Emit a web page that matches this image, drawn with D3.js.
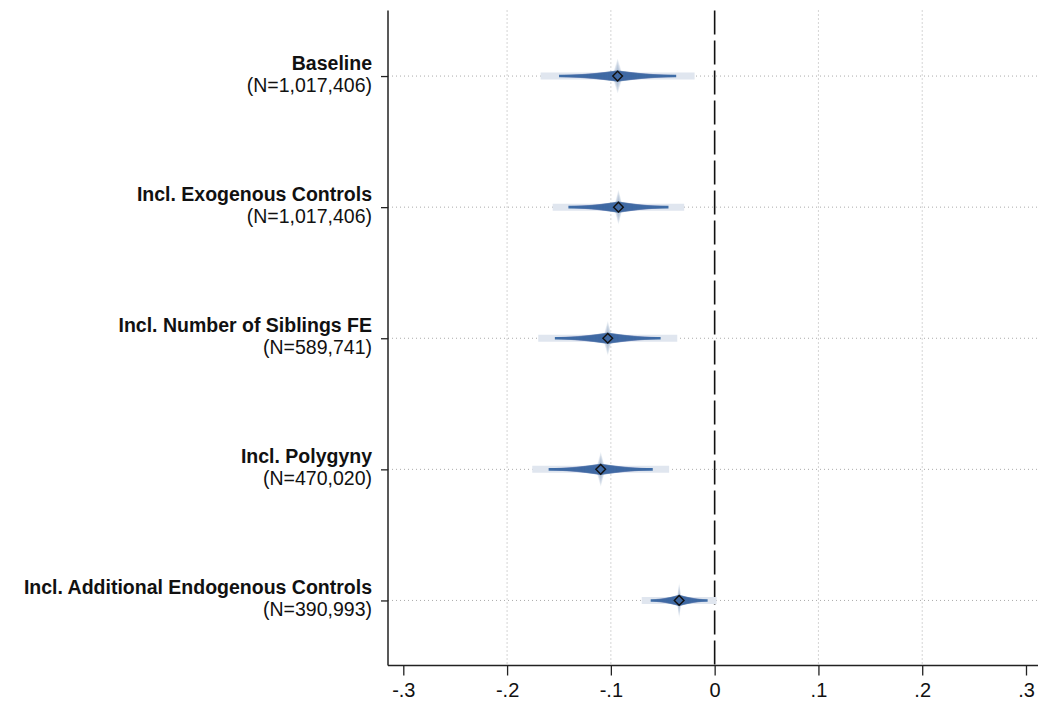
<!DOCTYPE html>
<html>
<head>
<meta charset="utf-8">
<script src="https://cdn.jsdelivr.net/npm/d3@7"></script>
<style>
  body { margin: 0; background: #fff; }
  text { font-family: "Liberation Sans", Arial, Helvetica, sans-serif; }
</style>
</head>
<body>
<div class="canvas"></div>
<script>
// data
var labels = ["Baseline", "Incl. Exogenous Controls", "Incl. Number of Siblings FE", "Incl. Polygyny", "Incl. Additional Endogenous Controls"];
var nObs = ["1,017,406", "1,017,406", "589,741", "470,020", "390,993"];
var coef = [-0.0935, -0.0927, -0.103, -0.1098, -0.0342];
var se = [0.0288, 0.0246, 0.026, 0.0256, 0.014];
var xTicks = [-0.3, -0.2, -0.1, 0, 0.1, 0.2, 0.3];
var xTickLabels = ["-.3", "-.2", "-.1", "0", ".1", ".2", ".3"];
var xGrid = [-0.2, -0.1, 0.1, 0.2];

var rows = labels.map(function(l, i) { return {label: l, n: nObs[i], b: coef[i], se: se[i]}; });

var W = 1038, H = 702;
var frame = {left: 388, right: 1038, top: 10.5, bottom: 665.5};

var svg = d3.select(".canvas").append("svg").attr("width", W).attr("height", H);

var x = d3.scaleLinear().domain([-0.3, 0.3]).range([403.3, 1026]);
var y = d3.scalePoint().domain(labels).range([10.5, 666]).padding(0.5);

// inverse normal (Acklam)
function probit(p) {
    var a = [-39.69683028665376, 220.9460984245205, -275.9285104469687, 138.357751867269, -30.66479806614716, 2.506628277459239];
    var b = [-54.47609879822406, 161.5858368580409, -155.6989798598866, 66.80131188771972, -13.28068155211218];
    var c = [-0.007784894002430293, -0.3223964580411365, -2.400758277161838, -2.549732539343734, 4.374664141464968, 2.938163982698783];
    var d = [0.007784695709041462, 0.3224671290700398, 2.445134137142996, 3.754408661907416];
    var q, r;
    if (p < 0.02425) {
        q = Math.sqrt(-2 * Math.log(p));
        return (((((c[0]*q+c[1])*q+c[2])*q+c[3])*q+c[4])*q+c[5]) / ((((d[0]*q+d[1])*q+d[2])*q+d[3])*q+1);
    } else if (p > 1 - 0.02425) {
        q = Math.sqrt(-2 * Math.log(1 - p));
        return -(((((c[0]*q+c[1])*q+c[2])*q+c[3])*q+c[4])*q+c[5]) / ((((d[0]*q+d[1])*q+d[2])*q+d[3])*q+1);
    }
    q = p - 0.5; r = q * q;
    return (((((a[0]*r+a[1])*r+a[2])*r+a[3])*r+a[4])*r+a[5])*q / (((((b[0]*r+b[1])*r+b[2])*r+b[3])*r+b[4])*r+1);
}
function z(level) { return probit(0.5 + level / 200); }

// grid lines
svg.append("g").selectAll("line").data(xGrid).join("line")
    .attr("x1", d => x(d)).attr("x2", d => x(d))
    .attr("y1", frame.top).attr("y2", frame.bottom)
    .attr("stroke", "#aaa").attr("stroke-width", 1).attr("stroke-dasharray", "1,3");

svg.append("g").selectAll("line").data(labels).join("line")
    .attr("x1", frame.left).attr("x2", frame.right)
    .attr("y1", d => y(d)).attr("y2", d => y(d))
    .attr("stroke", "#aaa").attr("stroke-width", 1).attr("stroke-dasharray", "1,3");

// zero reference line
svg.append("line")
    .attr("x1", x(0)).attr("x2", x(0))
    .attr("y1", frame.top).attr("y2", frame.bottom)
    .attr("stroke", "#111").attr("stroke-width", 1.6).attr("stroke-dasharray", "24,6");

// smoothed confidence intervals
var dark = "#3f6ea8";
var paleLevels = d3.range(1, 11);
var darkLevels = d3.range(94, 0, -1);

var ci = svg.append("g").selectAll("g").data(rows).join("g");

// outer 99% band
ci.append("line")
    .attr("x1", d => x(d.b - z(99) * d.se)).attr("x2", d => x(d.b + z(99) * d.se))
    .attr("y1", d => y(d.label)).attr("y2", d => y(d.label))
    .attr("stroke", "#e0e6ef").attr("stroke-width", 7);

// pale spike at the point
ci.each(function(d) {
    d3.select(this).selectAll("line.spike").data(paleLevels).join("line")
        .attr("class", "spike")
        .attr("x1", L => x(d.b - z(L) * d.se)).attr("x2", L => x(d.b + z(L) * d.se))
        .attr("y1", y(d.label)).attr("y2", y(d.label))
        .attr("stroke", "#9fb3d0").attr("stroke-opacity", 0.14)
        .attr("stroke-width", L => 34 - (L - 1) * 2.4);
});

// 95% base line
ci.append("line")
    .attr("x1", d => x(d.b - z(95) * d.se)).attr("x2", d => x(d.b + z(95) * d.se))
    .attr("y1", d => y(d.label)).attr("y2", d => y(d.label))
    .attr("stroke", dark).attr("stroke-width", 2.6);

// tapering layers
ci.each(function(d) {
    d3.select(this).selectAll("line.layer").data(darkLevels).join("line")
        .attr("class", "layer")
        .attr("x1", L => x(d.b - z(L) * d.se)).attr("x2", L => x(d.b + z(L) * d.se))
        .attr("y1", y(d.label)).attr("y2", y(d.label))
        .attr("stroke", dark).attr("stroke-opacity", 0.12)
        .attr("stroke-width", L => 2.6 + (95 - L) / 95 * 9);
});

// point estimates
svg.append("g").selectAll("path").data(rows).join("path")
    .attr("d", d3.symbol().type(d3.symbolDiamond2).size(60))
    .attr("transform", d => "translate(" + x(d.b) + "," + y(d.label) + ")")
    .attr("fill", "none").attr("stroke", "#111").attr("stroke-width", 1.4);

// axes
var xAxis = svg.append("g")
    .attr("transform", "translate(0," + frame.bottom + ")")
    .call(d3.axisBottom(x).tickValues(xTicks).tickSize(10).tickPadding(7)
        .tickFormat((d, i) => xTickLabels[i]));
xAxis.select(".domain").remove();
xAxis.selectAll("line").attr("stroke", "#222").attr("stroke-width", 1.3);
xAxis.selectAll("text").attr("font-size", 20).attr("fill", "#111")
    .attr("font-family", "Liberation Sans, Arial, sans-serif");

var yAxis = svg.append("g")
    .attr("transform", "translate(" + frame.left + ",0)")
    .call(d3.axisLeft(y).tickSize(7).tickFormat(""));
yAxis.select(".domain").remove();
yAxis.selectAll("line").attr("stroke", "#222").attr("stroke-width", 1.3);

svg.append("line")
    .attr("x1", frame.left).attr("x2", frame.right)
    .attr("y1", frame.bottom).attr("y2", frame.bottom)
    .attr("stroke", "#222").attr("stroke-width", 1.5);
svg.append("line")
    .attr("x1", frame.left).attr("x2", frame.left)
    .attr("y1", frame.top).attr("y2", frame.bottom)
    .attr("stroke", "#222").attr("stroke-width", 1.5);

// row labels, two lines each
var lab = svg.append("g");
lab.selectAll("text.name").data(rows).join("text")
    .attr("class", "name")
    .attr("text-anchor", "end")
    .attr("font-size", 19.5)
    .attr("font-weight", "bold")
    .attr("fill", "#111")
    .attr("x", 372).attr("y", d => y(d.label) - 6)
    .text(d => d.label);
lab.selectAll("text.obs").data(rows).join("text")
    .attr("class", "obs")
    .attr("text-anchor", "end")
    .attr("font-size", 19.5)
    .attr("fill", "#111")
    .attr("x", 372).attr("y", d => y(d.label) + 16)
    .text(d => "(N=" + d.n + ")");
</script>
</body>
</html>
